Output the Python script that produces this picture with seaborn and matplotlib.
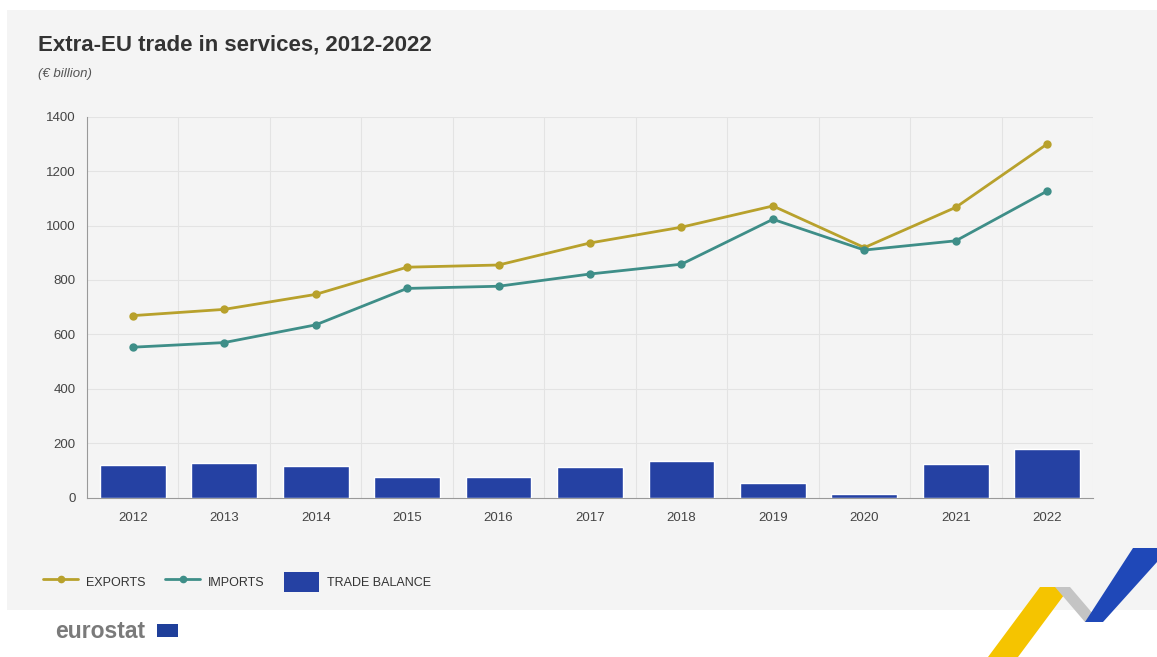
import numpy as np
import pandas as pd
import matplotlib
matplotlib.use("Agg")
import matplotlib.pyplot as plt
from matplotlib.patches import Rectangle, Polygon
from matplotlib.lines import Line2D
import seaborn as sns

years = ["2012", "2013", "2014", "2015", "2016", "2017", "2018", "2019", "2020", "2021", "2022"]
exports = [669, 692, 747, 847, 855, 936, 994, 1072, 919, 1067, 1300]
imports = [553, 570, 635, 769, 777, 822, 858, 1023, 910, 944, 1127]
trade_balance = [120, 126, 115, 77, 76, 114, 136, 55, 12, 125, 178]
y_ticks = [0, 200, 400, 600, 800, 1000, 1200, 1400]

C_EXP = "#b8a12c"
C_IMP = "#3e8e88"
C_BAR = "#2541a3"
C_GRID = "#e3e3e3"
C_TXT = "#444444"

sns.set_theme(style="white")
plt.rcParams["font.family"] = ["Liberation Sans", "DejaVu Sans"]

W, H = 1157, 657
fig = plt.figure(figsize=(W / 100, H / 100), dpi=100)
fig.patch.set_facecolor("white")

# gray panel background
fig.patches.append(Rectangle((7 / W, 1 - 610 / H), 1 - 7 / W, (610 - 10) / H,
                             transform=fig.transFigure, facecolor="#f4f4f4",
                             edgecolor="none", zorder=-5))

ax = fig.add_axes([87 / W, 1 - 497.7 / H, (1093 - 87) / W, (497.7 - 116.7) / H])
ax.set_facecolor("none")
ax.set_zorder(2)

df = pd.DataFrame({"year": years, "exports": exports, "imports": imports,
                   "balance": trade_balance})

sns.barplot(data=df, x="year", y="balance", color=C_BAR, width=0.72,
            saturation=1, ax=ax, zorder=3)
sns.pointplot(data=df, x="year", y="exports", color=C_EXP, markers="o",
              markersize=4.5, linewidth=2.0, ax=ax)
sns.pointplot(data=df, x="year", y="imports", color=C_IMP, markers="o",
              markersize=4.5, linewidth=2.0, ax=ax)
for ln in ax.lines:
    ln.set_zorder(5)

ax.set_xlim(-0.5, len(years) - 0.5)
ax.set_ylim(0, 1400)
ax.set_yticks(y_ticks)
ax.set_yticklabels([str(t) for t in y_ticks])
ax.set_xlabel("")
ax.set_ylabel("")

# grid lines
for t in y_ticks[1:]:
    ax.axhline(t, color=C_GRID, lw=0.8, zorder=1)
for i in range(len(years)):
    ax.axvline(i + 0.5, color=C_GRID, lw=0.8, zorder=1)

for s in ["top", "right"]:
    ax.spines[s].set_visible(False)
ax.spines["left"].set_color("#999999")
ax.spines["bottom"].set_color("#999999")
ax.spines["left"].set_linewidth(0.8)
ax.spines["bottom"].set_linewidth(0.8)
ax.tick_params(axis="both", length=0, labelsize=9.5, colors=C_TXT)
ax.tick_params(axis="x", pad=10)
ax.tick_params(axis="y", pad=8)

# title & subtitle
fig.text(38 / W, 1 - 45 / H, "Extra-EU trade in services, 2012-2022",
         fontsize=16, fontweight="bold", color="#333333", va="center", ha="left")
fig.text(38 / W, 1 - 74 / H, "(€ billion)", fontsize=9.5, style="italic",
         color="#555555", va="center", ha="left")

# legend
handles = [
    Line2D([0], [0], color=C_EXP, lw=2.0, marker="o", markersize=4.5),
    Line2D([0], [0], color=C_IMP, lw=2.0, marker="o", markersize=4.5),
    Rectangle((0, 0), 1, 1, facecolor=C_BAR, edgecolor="none"),
]
leg = fig.legend(handles, ["EXPORTS", "IMPORTS", "TRADE BALANCE"],
                 loc="center left", bbox_to_anchor=(32 / W, 1 - 582 / H),
                 ncol=3, frameon=False, fontsize=9, handlelength=2.8,
                 handleheight=2.0, columnspacing=1.6, handletextpad=0.6,
                 labelcolor="#333333")

# eurostat logo
fig.text(55 / W, 1 - 631 / H, "eurostat", fontsize=16.5, fontweight="bold",
         color="#7a7a7a", va="center", ha="left")
fig.patches.append(Rectangle((157 / W, 1 - 637 / H), 21 / W, 13 / H,
                             transform=fig.transFigure, facecolor="#1f3f9a",
                             edgecolor="none", zorder=2))

# decorative ribbon
def P(pts, color, alpha=1.0):
    fig.patches.append(Polygon([(x / W, 1 - y / H) for x, y in pts], closed=True,
                               transform=fig.transFigure, facecolor=color,
                               edgecolor="none", alpha=alpha, zorder=2))

P([(988, 657), (1040, 587), (1070, 587), (1018, 657)], "#f5c400")
P([(1055, 587), (1070, 587), (1100, 622), (1085, 622)], "#c4c4c4")
P([(1085, 622), (1133, 548), (1157, 548), (1157, 562), (1103, 622)], "#1f48b8")

fig.savefig("out.png", dpi=100, facecolor=fig.get_facecolor())
